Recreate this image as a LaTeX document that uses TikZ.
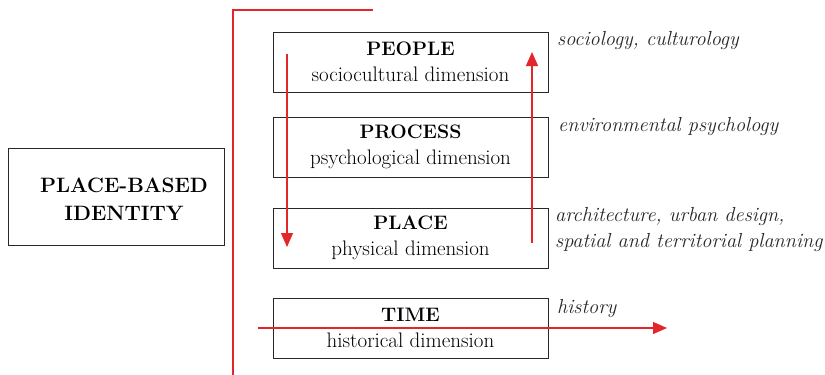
\documentclass[tikz,border=0pt]{standalone}
\usetikzlibrary{arrows.meta}
\definecolor{linkred}{RGB}{228,38,42}
\definecolor{framegray}{RGB}{40,40,40}
\newcommand{\dimtitle}[1]{{\fontsize{19.5}{26}\selectfont\bfseries #1}}
\tikzset{
  dimbox/.style={draw=framegray, line width=1pt, minimum width=275pt, minimum height=60pt,
    inner sep=0pt, align=center, font=\fontsize{21}{26}\selectfont},
  idbox/.style={draw=framegray, line width=1pt, minimum width=216pt, minimum height=97pt,
    inner sep=0pt},
  idtext/.style={inner sep=0pt, align=center, font=\fontsize{20.8}{28}\selectfont\bfseries},
  field/.style={anchor=base west, inner sep=0pt, font=\fontsize{20.3}{26}\selectfont\itshape, text=black!85},
  flow/.style={draw=linkred, line width=1.2pt, -{Triangle[width=12pt,length=14pt]}},
  bracket/.style={draw=linkred, line width=1.2pt}
}
\begin{document}
\begin{tikzpicture}[x=1pt, y=-1pt]
  \useasboundingbox (0,0) rectangle (825,375);

  % identity box and its title
  \node[idbox] (identity) at (116,196.5) {};
  \node[idtext] (idlabel) at (124,199) {PLACE-BASED\\IDENTITY};

  % bracket joining the dimensions
  \coordinate (brtop) at (373,10);
  \coordinate (brcorner) at (233,10);
  \coordinate (brbottom) at (233,375);
  \draw[bracket] (brtop) -- (brcorner) -- (brbottom);

  % dimension boxes
  \node[dimbox] (people)  at (410.5,62)  {\dimtitle{PEOPLE}\\sociocultural dimension};
  \node[dimbox] (process) at (410.5,147) {\dimtitle{PROCESS}\\psychological dimension};
  \node[dimbox] (place)   at (410.5,238) {\dimtitle{PLACE}\\physical dimension};
  \node[dimbox] (time)    at (410.5,328) {\dimtitle{TIME}\\historical dimension};

  % disciplines
  \node[field] (soc)  at (557,45)  {sociology, culturology};
  \node[field] (env)  at (558,131) {environmental psychology};
  \node[field] (arch) at (555,221) {architecture, urban design,};
  \node[field] (spat) at (555,247) {spatial and territorial planning};
  \node[field] (hist) at (557,313) {history};

  % flows between dimensions
  \coordinate (downstart) at (287,54);
  \coordinate (downend)   at (287,247);
  \coordinate (upstart)   at (532,243);
  \coordinate (upend)     at (532,52);
  \coordinate (histstart) at (258,328);
  \coordinate (histend)   at (667,328);
  \draw[flow] (downstart) -- (downend);
  \draw[flow] (upstart) -- (upend);
  \draw[flow] (histstart) -- (histend);
\end{tikzpicture}
\end{document}
